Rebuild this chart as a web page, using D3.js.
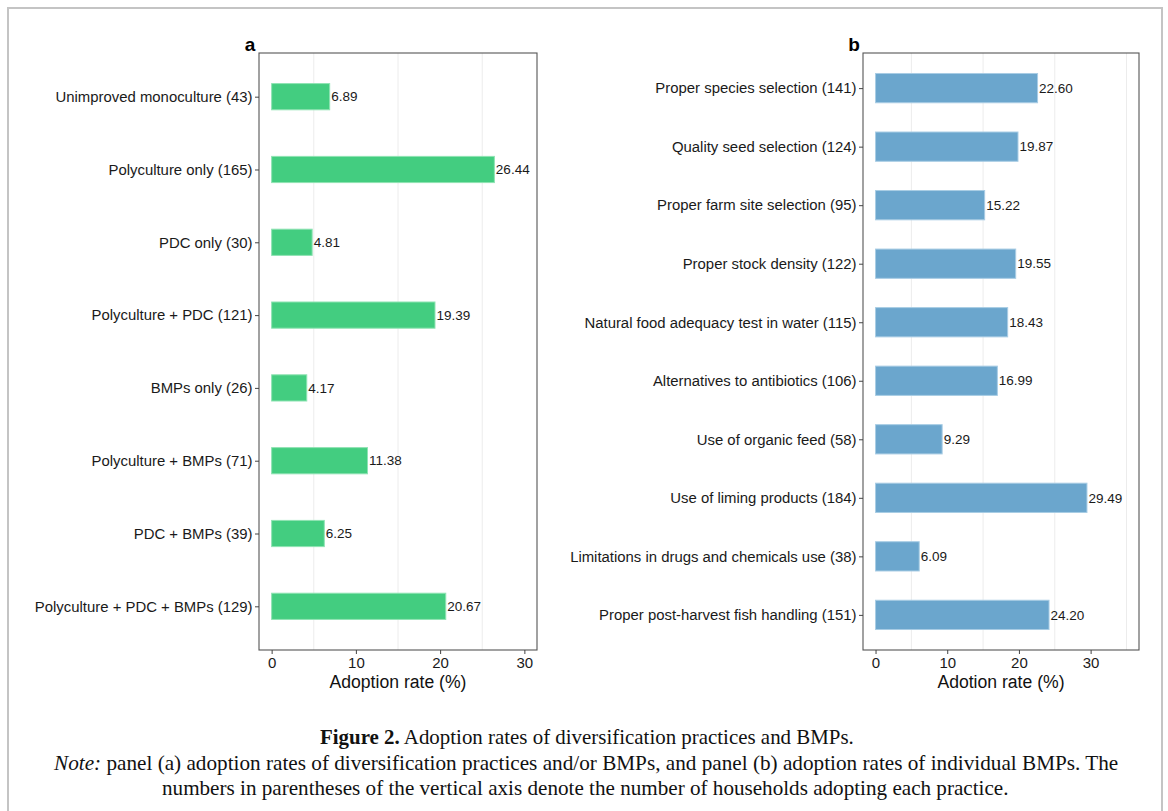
<!DOCTYPE html>
<html>
<head>
<meta charset="utf-8">
<script src="https://cdn.jsdelivr.net/npm/d3@7"></script>
<style>
  html, body { margin: 0; padding: 0; background: #fff; }
  svg { display: block; }
  .sans { font-family: "Liberation Sans", Arial, sans-serif; }
  .serif { font-family: "Liberation Serif", "Times New Roman", serif; }
</style>
</head>
<body>
<svg id="fig" width="1168" height="811"></svg>
<script>
// Panel (a): diversification practices and/or BMPs
const practicesA = [
  "Unimproved monoculture (43)",
  "Polyculture only (165)",
  "PDC only (30)",
  "Polyculture + PDC (121)",
  "BMPs only (26)",
  "Polyculture + BMPs (71)",
  "PDC + BMPs (39)",
  "Polyculture + PDC + BMPs (129)"
];
const ratesA = [6.89, 26.44, 4.81, 19.39, 4.17, 11.38, 6.25, 20.67];

// Panel (b): individual BMPs
const practicesB = [
  "Proper species selection (141)",
  "Quality seed selection (124)",
  "Proper farm site selection (95)",
  "Proper stock density (122)",
  "Natural food adequacy test in water (115)",
  "Alternatives to antibiotics (106)",
  "Use of organic feed (58)",
  "Use of liming products (184)",
  "Limitations in drugs and chemicals use (38)",
  "Proper post-harvest fish handling (151)"
];
const ratesB = [22.60, 19.87, 15.22, 19.55, 18.43, 16.99, 9.29, 29.49, 6.09, 24.20];

const ticksA = [0, 10, 20, 30];
const ticksB = [0, 10, 20, 30];
const minorA = [5, 15, 25];
const minorB = [5, 15, 25, 35];

const svg = d3.select("#fig");
const SANS = "Liberation Sans, Arial, sans-serif";

// outer figure frame
svg.append("rect")
  .attr("x", 8).attr("y", 8)
  .attr("width", 1154).attr("height", 820)
  .attr("fill", "none")
  .attr("stroke", "#c4c4c4")
  .attr("stroke-width", 2);

function panel(opts) {
  const { cats, vals, left, right, top, bottom, xMax, ticks, minor,
          barFrac, fill, edge, letter, xTitle } = opts;
  const pad = xMax * 0.05;
  const x = d3.scaleLinear().domain([-pad, xMax + pad]).range([left, right]);
  const y = d3.scalePoint().domain(cats).range([top, bottom]).padding(0.6);
  const bh = y.step() * barFrac;

  const g = svg.append("g").attr("class", "sans");

  // minor grid lines
  g.selectAll("line.grid").data(minor).join("line")
    .attr("class", "grid")
    .attr("x1", d => x(d)).attr("x2", d => x(d))
    .attr("y1", top).attr("y2", bottom)
    .attr("stroke", "#ececec").attr("stroke-width", 1);

  // bars
  g.selectAll("rect.bar").data(vals).join("rect")
    .attr("class", "bar")
    .attr("x", x(0))
    .attr("y", (d, i) => y(cats[i]) - bh / 2)
    .attr("width", d => x(d) - x(0))
    .attr("height", bh)
    .attr("fill", fill)
    .attr("stroke", edge)
    .attr("stroke-width", 1);

  // value labels
  g.selectAll("text.val").data(vals).join("text")
    .attr("class", "val")
    .attr("x", d => x(d) + 1.5)
    .attr("y", (d, i) => y(cats[i]))
    .attr("dy", "0.35em")
    .attr("font-size", 13.5)
    .attr("fill", "#1a1a1a")
    .text(d => d.toFixed(2));

  // panel border
  g.append("rect")
    .attr("x", left).attr("y", top)
    .attr("width", right - left).attr("height", bottom - top)
    .attr("fill", "none")
    .attr("stroke", "#555").attr("stroke-width", 1.1);

  // y axis
  const yAxis = g.append("g")
    .attr("transform", `translate(${left},0)`)
    .call(d3.axisLeft(y).tickSize(4).tickPadding(2.5))
    .attr("font-family", SANS)
    .attr("font-size", 14.9);
  yAxis.select(".domain").remove();
  yAxis.selectAll(".tick line").attr("stroke", "#444");
  yAxis.selectAll(".tick text").attr("fill", "#1a1a1a");

  // x axis
  const xAxis = g.append("g")
    .attr("transform", `translate(0,${bottom})`)
    .call(d3.axisBottom(x).tickValues(ticks).tickSize(4).tickPadding(3))
    .attr("font-family", SANS)
    .attr("font-size", 15);
  xAxis.select(".domain").remove();
  xAxis.selectAll(".tick line").attr("stroke", "#444");
  xAxis.selectAll(".tick text").attr("fill", "#1a1a1a");

  // axis title
  g.append("text")
    .attr("x", (left + right) / 2)
    .attr("y", bottom + 38)
    .attr("text-anchor", "middle")
    .attr("font-size", 17.6)
    .attr("fill", "#111")
    .text(xTitle);

  // panel letter
  g.append("text")
    .attr("x", left - 9)
    .attr("y", top - 2)
    .attr("text-anchor", "middle")
    .attr("font-size", 19)
    .attr("font-weight", "bold")
    .attr("fill", "#000")
    .text(letter);
}

panel({
  cats: practicesA, vals: ratesA,
  left: 259, right: 537, top: 53, bottom: 650,
  xMax: 30, ticks: ticksA, minor: minorA, barFrac: 0.36,
  fill: "#43CD80", edge: "#8fe3b3", letter: "a", xTitle: "Adoption rate (%)"
});

panel({
  cats: practicesB, vals: ratesB,
  left: 863, right: 1139, top: 53, bottom: 650,
  xMax: 35, ticks: ticksB, minor: minorB, barFrac: 0.5,
  fill: "#6BA6CD", edge: "#a8cce4", letter: "b", xTitle: "Adotion rate (%)"
});

// figure caption
const cap = svg.append("g").attr("class", "serif").attr("fill", "#111");

function captionLine(y, left, width, parts) {
  const t = cap.append("text").attr("x", left).attr("y", y).attr("font-size", 19);
  parts.forEach(p => {
    const s = t.append("tspan").text(p.text);
    if (p.bold) s.attr("font-weight", "bold");
    if (p.italic) s.attr("font-style", "italic");
  });
  const w = t.node().getComputedTextLength();
  t.attr("font-size", 19 * width / w);
}

captionLine(744, 320, 534, [
  { text: "Figure 2.", bold: true },
  { text: " Adoption rates of diversification practices and BMPs." }
]);
captionLine(770, 54, 1065, [
  { text: "Note:", italic: true },
  { text: " panel (a) adoption rates of diversification practices and/or BMPs, and panel (b) adoption rates of individual BMPs. The" }
]);
captionLine(795, 162, 847, [
  { text: "numbers in parentheses of the vertical axis denote the number of households adopting each practice." }
]);
</script>
</body>
</html>
